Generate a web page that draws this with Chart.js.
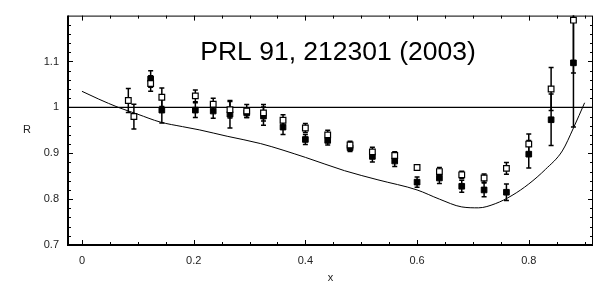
<!DOCTYPE html>
<html>
<head>
<meta charset="utf-8">
<script src="https://cdn.jsdelivr.net/npm/chart.js@4.4.1/dist/chart.umd.min.js"></script>
<style>
  html, body { margin: 0; padding: 0; background: #fff; }
</style>
</head>
<body>
<canvas id="chart" width="604" height="284"></canvas>
<script>
// open squares
const openX = [0.083, 0.093, 0.123, 0.143, 0.203, 0.235, 0.265, 0.295, 0.325, 0.36, 0.40, 0.44, 0.48, 0.52, 0.56, 0.60, 0.64, 0.68, 0.72, 0.76, 0.80, 0.84, 0.88];
const openY = [1.015, 0.980, 1.052, 1.022, 1.025, 1.007, 0.995, 0.992, 0.988, 0.972, 0.955, 0.940, 0.918, 0.903, 0.895, 0.869, 0.860, 0.853, 0.846, 0.867, 0.920, 1.040, 1.190];
const openErr = [0.026, 0.027, 0.017, 0.020, 0.013, 0.013, 0.018, 0.014, 0.018, 0.012, 0.010, 0.010, 0.008, 0.010, 0.008, 0.006, 0.009, 0.008, 0.009, 0.013, 0.022, 0.047, 0.115];

// filled squares
const fullX = [0.123, 0.143, 0.203, 0.235, 0.265, 0.295, 0.325, 0.36, 0.40, 0.44, 0.48, 0.52, 0.56, 0.60, 0.64, 0.68, 0.72, 0.76, 0.80, 0.84, 0.88];
const fullY = [1.062, 0.994, 0.994, 0.992, 0.985, 0.988, 0.981, 0.957, 0.930, 0.928, 0.912, 0.893, 0.883, 0.837, 0.846, 0.828, 0.820, 0.815, 0.898, 0.973, 1.097];
const fullErr = [0.018, 0.028, 0.016, 0.016, 0.030, 0.010, 0.020, 0.016, 0.011, 0.010, 0.008, 0.012, 0.012, 0.011, 0.012, 0.013, 0.015, 0.018, 0.030, 0.056, 0.140];

// calculation curve
const curveX = [0, 0.03, 0.065, 0.1, 0.14, 0.18, 0.21, 0.26, 0.32, 0.40, 0.47, 0.53, 0.60, 0.64, 0.68, 0.71, 0.74, 0.77, 0.80, 0.83, 0.86, 0.88, 0.90];
const curveY = [1.035, 1.018, 1.0, 0.985, 0.968, 0.958, 0.951, 0.937, 0.921, 0.891, 0.862, 0.842, 0.820, 0.800, 0.783, 0.781, 0.790, 0.808, 0.833, 0.865, 0.905, 0.955, 1.01];

const xTicks = [0, 0.2, 0.4, 0.6, 0.8];
const yTicks = [0.7, 0.8, 0.9, 1, 1.1];
const xMinor = [0, 0.05, 0.1, 0.15, 0.2, 0.25, 0.3, 0.35, 0.4, 0.45, 0.5, 0.55, 0.6, 0.65, 0.7, 0.75, 0.8, 0.85, 0.9];
const yMinor = [0.72, 0.74, 0.76, 0.78, 0.82, 0.84, 0.86, 0.88, 0.92, 0.94, 0.96, 0.98, 1.02, 1.04, 1.06, 1.08, 1.12, 1.14, 1.16, 1.18];

const title = "PRL 91, 212301 (2003)";
const FONT = "'Liberation Sans', Arial, Helvetica, sans-serif";

const pts = (xs, ys) => xs.map((x, i) => ({ x, y: ys[i] }));

const decor = {
  id: "decor",
  beforeDatasetsDraw(chart) {
    const { ctx, chartArea: a, scales: { x, y } } = chart;
    ctx.save();
    ctx.beginPath();
    ctx.rect(a.left, a.top, a.right - a.left, a.bottom - a.top);
    ctx.clip();
    // R = 1 reference line
    ctx.strokeStyle = "#000";
    ctx.lineWidth = 1.2;
    const y1 = y.getPixelForValue(1);
    ctx.beginPath();
    ctx.moveTo(a.left, y1);
    ctx.lineTo(a.right, y1);
    ctx.stroke();
    // error bars
    ctx.lineWidth = 1.5;
    [[fullX, fullY, fullErr], [openX, openY, openErr]].forEach(([xs, ys, es]) => {
      xs.forEach((xv, i) => {
        const px = x.getPixelForValue(xv);
        const top = y.getPixelForValue(ys[i] + es[i]);
        const bot = y.getPixelForValue(ys[i] - es[i]);
        ctx.beginPath();
        ctx.moveTo(px, top); ctx.lineTo(px, bot);
        ctx.moveTo(px - 2.5, top); ctx.lineTo(px + 2.5, top);
        ctx.moveTo(px - 2.5, bot); ctx.lineTo(px + 2.5, bot);
        ctx.stroke();
      });
    });
    ctx.restore();
  },
  afterDraw(chart) {
    const { ctx, chartArea: a, scales: { x, y } } = chart;
    ctx.save();
    // frame
    ctx.strokeStyle = "#000";
    ctx.lineWidth = 1;
    ctx.strokeRect(a.left + 0.5, a.top + 0.5, a.right - a.left - 1, a.bottom - a.top - 1);
    ctx.lineWidth = 2;
    ctx.beginPath();
    ctx.moveTo(a.left, a.top); ctx.lineTo(a.left, a.bottom); ctx.lineTo(a.right, a.bottom);
    ctx.stroke();
    // inward ticks on all sides
    ctx.lineWidth = 1;
    ctx.beginPath();
    xMinor.forEach(v => {
      const px = Math.round(x.getPixelForValue(v)) + 0.5;
      const len = xTicks.some(t => Math.abs(t - v) < 1e-6) ? 5 : 3;
      ctx.moveTo(px, a.bottom); ctx.lineTo(px, a.bottom - len);
      ctx.moveTo(px, a.top); ctx.lineTo(px, a.top + len);
    });
    yMinor.concat(yTicks).forEach(v => {
      const py = Math.round(y.getPixelForValue(v)) + 0.5;
      const len = yTicks.includes(v) ? 5 : 3;
      ctx.moveTo(a.left, py); ctx.lineTo(a.left + len, py);
      ctx.moveTo(a.right, py); ctx.lineTo(a.right - len, py);
    });
    ctx.stroke();
    // axis names and title
    ctx.fillStyle = "#222";
    ctx.textAlign = "center";
    ctx.textBaseline = "middle";
    ctx.font = "11px " + FONT;
    ctx.fillText("R", 27, (a.top + a.bottom) / 2);
    ctx.fillText("x", (a.left + a.right) / 2, 278);
    ctx.fillStyle = "#000";
    ctx.textBaseline = "alphabetic";
    ctx.font = "26.5px " + FONT;
    ctx.fillText(title, 338, 60);
    ctx.restore();
  }
};

new Chart(document.getElementById("chart"), {
  type: "scatter",
  data: {
    datasets: [
      {
        label: "open",
        data: pts(openX, openY),
        pointStyle: "rect",
        pointRadius: 4,
        backgroundColor: "#fff",
        borderColor: "#000",
        borderWidth: 1.2,
      },
      {
        label: "filled",
        data: pts(fullX, fullY),
        pointStyle: "rect",
        pointRadius: 4,
        backgroundColor: "#000",
        borderColor: "#000",
        borderWidth: 1,
      },
      {
        type: "line",
        label: "curve",
        data: pts(curveX, curveY),
        borderColor: "#000",
        borderWidth: 1,
        pointRadius: 0,
        fill: false,
        cubicInterpolationMode: "monotone",
      },
    ],
  },
  options: {
    responsive: false,
    animation: false,
    layout: { padding: { left: 0, right: 11, top: 8, bottom: 0 } },
    plugins: { legend: { display: false }, tooltip: { enabled: false } },
    scales: {
      x: {
        type: "linear",
        min: -0.025,
        max: 0.915,
        grid: { display: false, drawTicks: false },
        border: { display: false },
        afterBuildTicks: (s) => { s.ticks = xTicks.map(v => ({ value: v })); },
        afterFit: (s) => { s.height = 39; },
        ticks: {
          padding: 9,
          color: "#222",
          font: { family: FONT, size: 11 },
          callback: (v) => String(Math.round(v * 10) / 10),
        },
      },
      y: {
        min: 0.7,
        max: 1.2,
        grid: { display: false, drawTicks: false },
        border: { display: false },
        afterBuildTicks: (s) => { s.ticks = yTicks.map(v => ({ value: v })); },
        afterFit: (s) => { s.width = 68; },
        ticks: {
          padding: 9,
          color: "#222",
          font: { family: FONT, size: 11 },
          callback: (v) => String(Math.round(v * 10) / 10),
        },
      },
    },
  },
  plugins: [decor],
});
</script>
</body>
</html>
